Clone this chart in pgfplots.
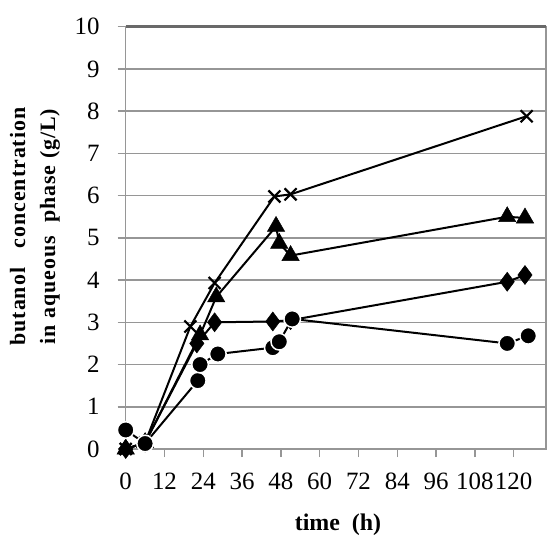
\documentclass[border=0pt]{standalone}
\usepackage{pgfplots}
\pgfplotsset{compat=1.18}
\usepackage{fontspec}
\setmainfont{Liberation Serif}
\definecolor{gridgray}{RGB}{150,150,150}
\definecolor{framegray}{RGB}{105,105,105}
\begin{document}
\begin{tikzpicture}
\path[use as bounding box] (-125.7bp,-89bp) rectangle (421.3bp,449bp);
\begin{axis}[
  at={(0,0)}, anchor=south west,
  scale only axis, width=420.3bp, height=422.3bp,
  xmin=0, xmax=130, ymin=0, ymax=10,
  xtick={0,12,...,120}, ytick={0,1,...,10},
  tick pos=left, tick align=outside, major tick length=8bp,
  ymajorgrids, grid style={gridgray, line width=1.6bp},
  axis line style={gridgray, line width=1.6bp},
  tick style={gridgray, line width=1.5bp},
  ticklabel style={font=\fontsize{25}{25}\selectfont, inner sep=0pt, text=black},
  /pgf/number format/assume math mode=true,
  yticklabel style={anchor=east, xshift=-18bp},
  xticklabel style={anchor=north, yshift=-16bp},
  clip=false,
  xlabel={\textbf{time\ \ (h)}},
  xlabel style={font=\fontsize{24}{24}\selectfont, at={(axis description cs:0.505,-0.18)}, anchor=center},
  ylabel={\textbf{butanol\ \ \ concentration}\\\textbf{in aqueous\ \ phase (g/L)}},
  ylabel style={font=\fontsize{22}{30}\selectfont\addfontfeature{LetterSpace=4.5}, align=center, rotate=0, at={(axis description cs:-0.2158,0.528)}, anchor=center},
  every axis plot/.append style={black, line width=2bp},
]
\addplot[mark=x, mark size=8.5bp, mark options={line width=2.2bp}] coordinates {
(0,0) (6,0.15) (20,2.9) (27.5,3.93) (46,5.98) (51,6.03) (124,7.88)};
\addplot[mark=triangle*, mark size=10bp, mark options={fill=black, line width=0.5bp}] coordinates {
(0,0) (6,0.15) (23,2.7) (28,3.6) (46.5,5.27) (47.5,4.87) (51,4.58) (118,5.5) (123.5,5.47)};
\addplot[mark=diamond*, mark size=9.5bp, mark options={fill=black, line width=0.5bp}] coordinates {
(0,0) (6,0.15) (22,2.5) (27.5,3.0) (45.5,3.02) (51,3.05) (118,3.96) (123.5,4.12)};
\addplot[mark=*, mark size=8.3bp, mark options={fill=black, draw=white, line width=1.5bp}] coordinates {
(0,0.45) (6,0.13) (22.3,1.62) (23,2.0) (28.5,2.25) (45.5,2.4) (47.5,2.54) (51.5,3.08) (118,2.5) (124.5,2.68)};
\draw[framegray, line width=2.5bp] (rel axis cs:0,1) -- (rel axis cs:1,1);
\end{axis}
\end{tikzpicture}
\end{document}
